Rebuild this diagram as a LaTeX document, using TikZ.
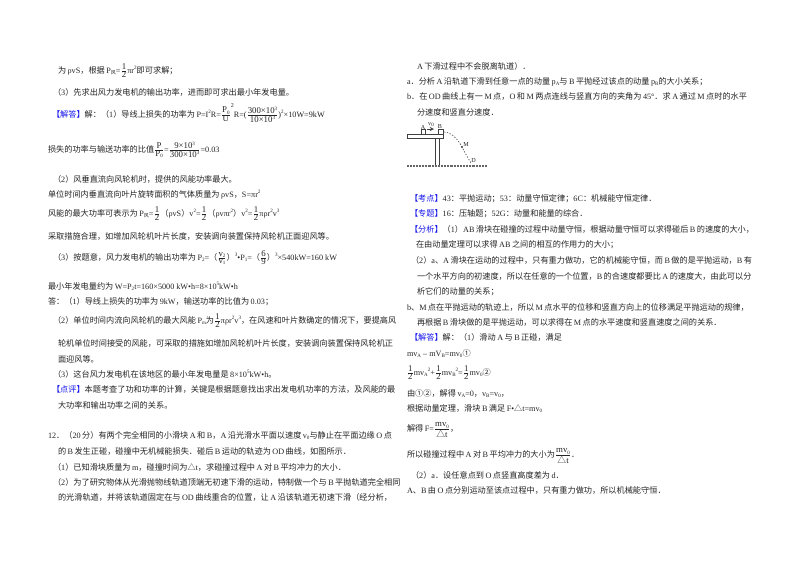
\documentclass[tikz,border=0pt]{standalone}
\usepackage{fontspec}
\setmainfont{Liberation Serif}
\newfontfamily\cjk{Noto Sans CJK SC}
\newfontfamily\lat{Liberation Serif}
\XeTeXinterchartokenstate=1
\chardef\cjkcls=7
\chardef\puncls=8
\newcount\ci
\def\setrange#1#2#3{\ci=#1\relax\loop\XeTeXcharclass\ci=#3\relax\ifnum\ci<#2\advance\ci by 1\repeat}
\setrange{"4E00}{"9FFF}{\cjkcls}
\setrange{"3000}{"303F}{\puncls}
\setrange{"FF00}{"FFEF}{\puncls}
\setrange{"2460}{"2473}{\puncls}
\XeTeXcharclass"25B3=\puncls
\XeTeXinterchartoks 0 \cjkcls={\kern 1.1pt\cjk}
\XeTeXinterchartoks \cjkcls 0={\kern 1.1pt\lat}
\XeTeXinterchartoks 0 \puncls={\cjk}
\XeTeXinterchartoks \puncls 0={\lat}
\XeTeXinterchartoks 4095 \cjkcls={\cjk}
\XeTeXinterchartoks 4095 \puncls={\cjk}
\XeTeXinterchartoks 4095 0={\lat}
\definecolor{inktext}{RGB}{35,35,35}
\definecolor{tagblue}{RGB}{20,20,235}
\newcommand{\dn}[1]{\raisebox{-0.9pt}{\fontsize{3.8}{4}\selectfont #1}}
\newcommand{\up}[1]{\raisebox{2.4pt}{\fontsize{3.8}{4}\selectfont #1}}
\newcommand{\frc}[2]{{\nulldelimiterspace=0pt \kern0.9pt${\hbox{\fontsize{6.6}{7}\selectfont #1}\over\hbox{\fontsize{6.6}{7}\selectfont #2}}$\kern0.9pt}}
\newcommand{\tagb}[1]{\textcolor{tagblue}{【#1】}}
\tikzset{
 tl/.style={anchor=base west,inner sep=0pt,outer sep=0pt,text=inktext,font=\fontsize{6.13}{7}\selectfont},
 figlabel/.style={inner sep=0pt,text=inktext,font=\fontsize{4.6}{5}\selectfont},
 figline/.style={draw=black!75,line width=0.45pt},
 groundline/.style={draw=black!60,line width=1.5pt,dash pattern=on 0.6pt off 0.5pt},
 orbit/.style={draw=black!70,line width=0.5pt,dash pattern=on 1pt off 1.2pt},
 blockbox/.style={draw=black!75,line width=0.45pt,inner sep=0pt,fill=white}
}
\begin{document}
\begin{tikzpicture}[x=0.75pt,y=-0.75pt]
\useasboundingbox (0,0) rectangle (800,565);
\node[tl] (l1) at (58,73) {为ρvS，根据P\dn{风}=\frc{1}{2}πr\up{2}即可求解；};
\node[tl] (l2) at (53,95) {（3）先求出风力发电机的输出功率，进而即可求出最小年发电量。};
\node[tl] (l3) at (52,117) {\tagb{解答}解：（1）导线上损失的功率为P=I\up{2}R=\frc{P\dn{0}}{U}\raisebox{7pt}{\fontsize{4.5}{5}\selectfont 2}R=(\frc{300×10\up{3}}{10×10\up{3}})\up{2}×10W=9kW};
\node[tl] (l4) at (48,152) {损失的功率与输送功率的比值\frc{P}{P\dn{0}}=\frc{9×10\up{3}}{300×10\up{3}}=0.03};
\node[tl] (l5) at (53,182) {（2）风垂直流向风轮机时，提供的风能功率最大。};
\node[tl] (l6) at (48,197) {单位时间内垂直流向叶片旋转面积的气体质量为ρvS，S=πr\up{2}};
\node[tl] (l7) at (48,216) {风能的最大功率可表示为P\dn{风}=\frc{1}{2}（ρvS）v\up{2}=\frc{1}{2}（ρvπr\up{2}）v\up{2}=\frc{1}{2}πρr\up{2}v\up{3}};
\node[tl] (l8) at (48,239) {采取措施合理，如增加风轮机叶片长度，安装调向装置保持风轮机正面迎风等。};
\node[tl] (l9) at (53,260) {（3）按题意，风力发电机的输出功率为P\dn{2}=（\frc{v\dn{2}}{v\dn{1}}）\up{3}•P\dn{1}=（\frc{6}{9}）\up{3}×540kW=160 kW};
\node[tl] (l10) at (48,289) {最小年发电量约为W=P\dn{2}t=160×5000 kW•h=8×10\up{5}kW•h};
\node[tl] (l11) at (48,304) {答：（1）导线上损失的功率为9kW，输送功率的比值为0.03；};
\node[tl] (l12) at (53,323) {（2）单位时间内流向风轮机的最大风能P\dn{m}为\frc{1}{2}πρr\up{2}v\up{3}，在风速和叶片数确定的情况下，要提高风};
\node[tl] (l13) at (58,346) {轮机单位时间接受的风能，可采取的措施如增加风轮机叶片长度，安装调向装置保持风轮机正};
\node[tl] (l14) at (58,362) {面迎风等。};
\node[tl] (l15) at (53,377) {（3）这台风力发电机在该地区的最小年发电量是8×10\up{5}kW•h。};
\node[tl] (l16) at (52,392) {\tagb{点评}本题考查了功和功率的计算，关键是根据题意找出求出发电机功率的方法，及风能的最};
\node[tl] (l17) at (58,408) {大功率和输出功率之间的关系。};
\node[tl] (l18) at (48,438) {12．（20分）有两个完全相同的小滑块A和B，A沿光滑水平面以速度v\dn{0}与静止在平面边缘O点};
\node[tl] (l19) at (58,454) {的B发生正碰，碰撞中无机械能损失．碰后B运动的轨迹为OD曲线，如图所示．};
\node[tl] (l20) at (53,470) {（1）已知滑块质量为m，碰撞时间为△t，求碰撞过程中A对B平均冲力的大小．};
\node[tl] (l21) at (53,485) {（2）为了研究物体从光滑抛物线轨道顶端无初速下滑的运动，特制做一个与B平抛轨道完全相同};
\node[tl] (l22) at (58,500) {的光滑轨道，并将该轨道固定在与OD曲线重合的位置，让A沿该轨道无初速下滑（经分析，};
% right column
\node[tl] (r1) at (417,69) {A下滑过程中不会脱离轨道）．};
\node[tl] (r2) at (407,84) {a．分析A沿轨道下滑到任意一点的动量p\dn{A}与B平抛经过该点的动量p\dn{B}的大小关系；};
\node[tl] (r3) at (407,99) {b．在OD曲线上有一M点，O和M两点连线与竖直方向的夹角为45°．求A通过M点时的水平};
\node[tl] (r4) at (417,115) {分速度和竖直分速度．};
\node[tl] (r5) at (410,201) {\tagb{考点}43：平抛运动；53：动量守恒定律；6C：机械能守恒定律．};
\node[tl] (r6) at (410,216) {\tagb{专题}16：压轴题；52G：动量和能量的综合．};
\node[tl] (r7) at (410,232) {\tagb{分析}（1）AB滑块在碰撞的过程中动量守恒，根据动量守恒可以求得碰后B的速度的大小，};
\node[tl] (r8) at (416,247) {在由动量定理可以求得AB之间的相互的作用力的大小；};
\node[tl] (r9) at (411,263) {（2）a、A滑块在运动的过程中，只有重力做功，它的机械能守恒，而B做的是平抛运动，B有};
\node[tl] (r10) at (417,279) {一个水平方向的初速度，所以在任意的一个位置，B的合速度都要比A的速度大，由此可以分};
\node[tl] (r11) at (417,294) {析它们的动量的关系；};
\node[tl] (r12) at (407,310) {b、M点在平抛运动的轨迹上，所以M点水平的位移和竖直方向上的位移满足平抛运动的规律，};
\node[tl] (r13) at (417,325) {再根据B滑块做的是平抛运动，可以求得在M点的水平速度和竖直速度之间的关系．};
\node[tl] (r14) at (410,340) {\tagb{解答}解：（1）滑动A与B正碰，满足};
\node[tl] (r15) at (407,356) {mv\dn{A} – mV\dn{B}=mv\dn{0}①};
\node[tl] (r16) at (407,375) {\frc{1}{2}mv\dn{A}\up{2}+\frc{1}{2}mv\dn{B}\up{2}=\frc{1}{2}mv\dn{0}②};
\node[tl] (r17) at (407,396) {由①②，解得v\dn{A}=0，v\dn{B}=v\dn{0}，};
\node[tl] (r18) at (407,411) {根据动量定理，滑块B满足F•△t=mv\dn{0}};
\node[tl] (r19) at (407,431) {解得F=\frc{mv\dn{0}}{△t}，};
\node[tl] (r20) at (407,457) {所以碰撞过程中A对B平均冲力的大小为\frc{mv\dn{0}}{△t}．};
\node[tl] (r21) at (411,478) {（2）a．设任意点到O点竖直高度差为d．};
\node[tl] (r22) at (407,493) {A、B由O点分别运动至该点过程中，只有重力做功，所以机械能守恒．};
% figure
\draw[figline] (407,134) rectangle (443,138.5);
\draw[figline] (435,138.5) -- (435,165);
\draw[figline] (439,138.5) -- (439,165);
\coordinate (g1) at (407,165.5);
\coordinate (g2) at (487,165.5);
\draw[groundline] (g1) -- (g2);
\node[blockbox,minimum width=3pt,minimum height=3.5pt] (blockA) at (423,132) {};
\node[blockbox,minimum width=4pt,minimum height=3.5pt] (blockB) at (440.5,132) {};
\node[figlabel] (labA) at (423,127.5) {A};
\node[figlabel] (labB) at (440,126) {B};
\node[figlabel] (labV) at (431,124.5) {v\dn{0}};
\coordinate (a1) at (427,129);
\coordinate (a2) at (434,129);
\draw[figline,-stealth] (a1) -- (a2);
\fill[black!75] (462,147) circle (0.9pt) coordinate (ptM);
\coordinate (ptD) at (471,163);
\coordinate (ptO) at (444,132);
\draw[orbit] (ptO) .. controls (452,132) and (459,141) .. (ptM) .. controls (465,153) and (468,158) .. (ptD);
\node[figlabel] (labM) at (466,144) {M};
\node[figlabel] (labD) at (473.5,160) {D};
\end{tikzpicture}
\end{document}
